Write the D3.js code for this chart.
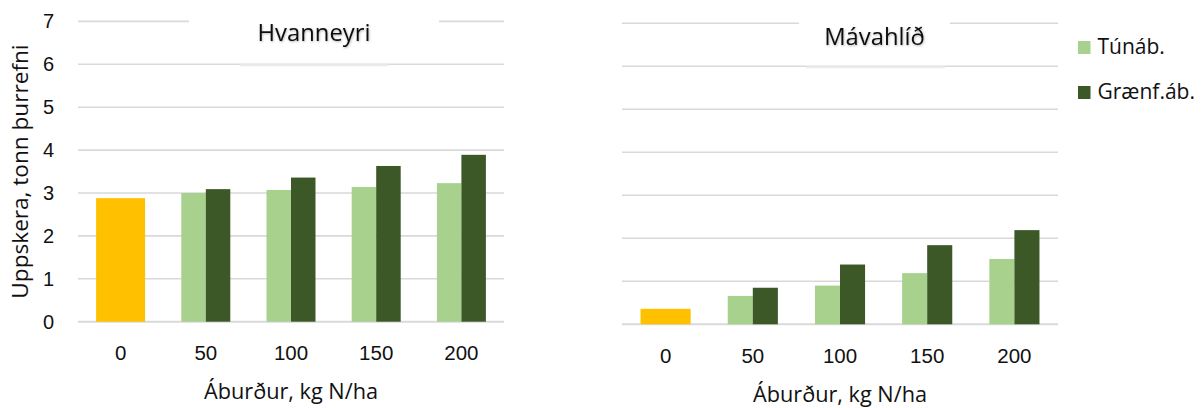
<!DOCTYPE html>
<html>
<head>
<meta charset="utf-8">
<script src="https://cdn.jsdelivr.net/npm/d3@7"></script>
<style>
  html, body { margin: 0; padding: 0; background: #fff; }
  svg { display: block; font-family: "Open Sans", "Noto Sans", sans-serif; }
</style>
</head>
<body>
<svg id="chart" width="1204" height="408"></svg>
<script>
// Nitrogen application levels (kg N/ha)
const categories = ["0", "50", "100", "150", "200"];
const yTicks = [0, 1, 2, 3, 4, 5, 6, 7];

// Hvanneyri yields (tonn þurrefni)
const hvanControl = [2.88];
const hvanTunab  = [3.00, 3.07, 3.14, 3.23];
const hvanGraenf = [3.09, 3.36, 3.63, 3.89];

// Mávahlíð yields (tonn þurrefni)
const mavaControl = [0.36];
const mavaTunab  = [0.66, 0.90, 1.19, 1.52];
const mavaGraenf = [0.85, 1.39, 1.84, 2.19];

const seriesNames = ["Túnáb.", "Grænf.áb."];
const colors = { control: "#FFC000", tunab: "#A9D18E", graenf: "#3B5826" };

const svg = d3.select("#chart");
const defs = svg.append("defs");
const shadow = defs.append("filter").attr("id", "soft").attr("x", "-10%").attr("y", "-30%").attr("width", "120%").attr("height", "160%");
shadow.append("feDropShadow").attr("dx", 0.6).attr("dy", 1).attr("stdDeviation", 1).attr("flood-color", "#000").attr("flood-opacity", 0.3);

function panel(cfg) {
  const x = d3.scaleBand().domain(categories).range([cfg.x0, cfg.x1]).paddingInner(0).paddingOuter(0);
  const y = d3.scaleLinear().domain([0, 7]).range([cfg.yBottom, cfg.yTop]);
  const groupW = x.bandwidth() * 0.575;
  const sub = d3.scaleBand().domain(["tunab", "graenf"]).range([0, groupW]);

  const g = svg.append("g");

  // horizontal gridlines
  g.append("g").selectAll("line").data(yTicks).join("line")
    .attr("x1", cfg.x0).attr("x2", cfg.x1)
    .attr("y1", d => y(d)).attr("y2", d => y(d))
    .attr("stroke", "#D9D9D9").attr("stroke-width", d => d === 0 ? 2 : 1.6);

  // title box masking the top gridline, with its faint shadow on the next line
  g.append("line")
    .attr("x1", cfg.shadowX0).attr("x2", cfg.shadowX1)
    .attr("y1", y(6) + 1).attr("y2", y(6) + 1)
    .attr("stroke", "#ECECEC").attr("stroke-width", 2);
  g.append("rect")
    .attr("x", cfg.boxX0).attr("width", cfg.boxX1 - cfg.boxX0)
    .attr("y", y(7) - 10).attr("height", y(6) - y(7) - 2)
    .attr("fill", "#fff");
  g.append("text")
    .attr("x", (cfg.boxX0 + cfg.boxX1) / 2).attr("y", cfg.titleY)
    .attr("text-anchor", "middle").attr("font-size", 23.8).attr("fill", "#111")
    .attr("filter", "url(#soft)")
    .text(cfg.title);

  // control (no nitrogen) bar
  g.append("g").selectAll("rect").data(cfg.control).join("rect")
    .attr("x", x(categories[0]) + (x.bandwidth() - groupW) / 2)
    .attr("width", groupW)
    .attr("y", d => y(d)).attr("height", d => y(0) - y(d))
    .attr("fill", colors.control);

  // fertiliser series bars
  const rows = categories.slice(1).map((c, i) => ({ c, tunab: cfg.tunab[i], graenf: cfg.graenf[i] }));
  ["tunab", "graenf"].forEach(key => {
    g.append("g").selectAll("rect").data(rows).join("rect")
      .attr("x", d => x(d.c) + (x.bandwidth() - groupW) / 2 + sub(key))
      .attr("width", sub.bandwidth())
      .attr("y", d => y(d[key])).attr("height", d => y(0) - y(d[key]))
      .attr("fill", colors[key]);
  });

  // category axis
  const xAxis = g.append("g").attr("transform", `translate(0,${cfg.yBottom})`)
    .call(d3.axisBottom(x).tickSize(0).tickPadding(cfg.tickPad));
  xAxis.select(".domain").remove();
  xAxis.selectAll("text").attr("font-size", 20.5).attr("fill", "#111").attr("font-family", null);

  g.append("text")
    .attr("x", (cfg.x0 + cfg.x1) / 2).attr("y", cfg.xTitleY)
    .attr("text-anchor", "middle").attr("font-size", 21.7).attr("fill", "#111")
    .text("Áburður, kg N/ha");

  if (cfg.showY) {
    const yAxis = g.append("g").attr("transform", `translate(${cfg.x0},0)`)
      .call(d3.axisLeft(y).tickValues(yTicks).tickFormat(d3.format("d")).tickSize(0).tickPadding(24));
    yAxis.select(".domain").remove();
    yAxis.selectAll("text").attr("font-size", 20).attr("fill", "#111").attr("font-family", null);

    g.append("text")
      .attr("transform", `translate(28,${(cfg.yTop + cfg.yBottom) / 2}) rotate(-90)`)
      .attr("text-anchor", "middle").attr("font-size", 22.6).attr("fill", "#111")
      .text("Uppskera, tonn þurrefni");
  }
}

panel({
  title: "Hvanneyri", x0: 78, x1: 504, yTop: 21.4, yBottom: 321.7,
  control: hvanControl, tunab: hvanTunab, graenf: hvanGraenf,
  boxX0: 189, boxX1: 439, shadowX0: 240, shadowX1: 388, titleY: 41,
  tickPad: 24, xTitleY: 399, showY: true
});

panel({
  title: "Mávahlíð", x0: 622, x1: 1058, yTop: 23.3, yBottom: 324.3,
  control: mavaControl, tunab: mavaTunab, graenf: mavaGraenf,
  boxX0: 799, boxX1: 950, shadowX0: 806, shadowX1: 945, titleY: 45,
  tickPad: 24, xTitleY: 402, showY: false
});

// legend
const legend = svg.append("g").selectAll("g").data(seriesNames).join("g")
  .attr("transform", (d, i) => `translate(1078,${41 + i * 45})`);
legend.append("rect").attr("width", 12.5).attr("height", 13)
  .attr("fill", (d, i) => i === 0 ? colors.tunab : colors.graenf);
legend.append("text").attr("x", 19.5).attr("y", 12.5)
  .attr("font-size", 21).attr("fill", "#111").text(d => d);
</script>
</body>
</html>
